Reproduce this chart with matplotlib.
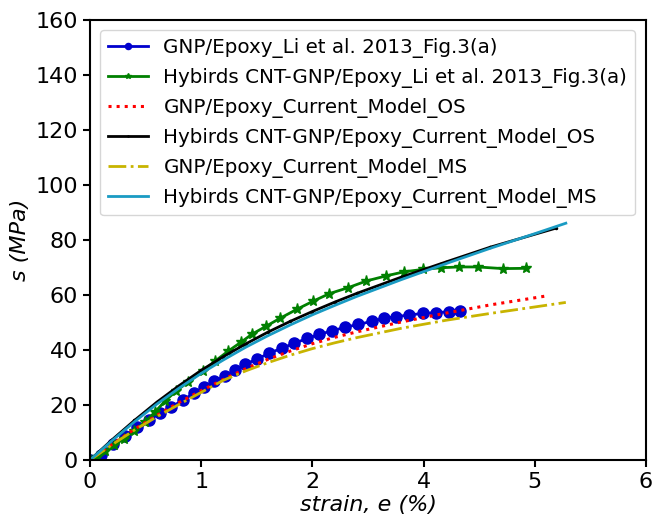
import matplotlib
matplotlib.use("Agg")
import matplotlib.pyplot as plt
import numpy as np

# GNP/Epoxy experimental (Li et al. 2013)
gnp_exp_x = [0.0, 0.099, 0.207, 0.315, 0.423, 0.532, 0.631, 0.730, 0.838, 0.937, 1.027,
             1.117, 1.216, 1.306, 1.396, 1.505, 1.613, 1.730, 1.838, 1.955, 2.063, 2.180,
             2.297, 2.414, 2.532, 2.640, 2.748, 2.865, 2.991, 3.108, 3.225, 3.324]
gnp_exp_y = [0.0, 1.8, 5.8, 8.7, 12.0, 14.5, 17.1, 19.3, 21.8, 24.4, 26.5,
             28.7, 30.5, 32.7, 34.9, 36.7, 38.9, 40.7, 42.5, 44.2, 45.7, 47.0,
             48.3, 49.3, 50.4, 51.5, 52.1, 52.7, 53.3, 53.6, 53.9, 54.3]

# Hybrid CNT-GNP/Epoxy experimental
hyb_exp_x = [0.0, 0.063, 0.135, 0.216, 0.306, 0.396, 0.495, 0.586, 0.676, 0.775, 0.883,
             1.018, 1.126, 1.243, 1.360, 1.459, 1.586, 1.712, 1.865, 2.009, 2.153,
             2.324, 2.486, 2.658, 2.820, 2.991, 3.153, 3.315, 3.486, 3.712, 3.919]
hyb_exp_y = [0.0, 1.1, 3.1, 5.3, 7.8, 10.5, 13.8, 17.5, 21.5, 25.1, 28.4,
             32.4, 36.0, 39.6, 42.9, 45.8, 48.7, 51.6, 54.9, 57.8, 60.5,
             62.7, 65.1, 66.9, 68.4, 69.3, 69.9, 70.2, 70.2, 69.6, 69.7]

# GNP/Epoxy model OS
gnp_os_x = [0.0, 0.2, 0.4, 0.6, 0.8, 1.0, 1.2, 1.4, 1.6, 1.8, 2.0, 2.2, 2.4, 2.8, 3.2, 3.6, 4.126]
gnp_os_y = [0.0, 5.8, 11.2, 16.2, 20.9, 25.2, 29.3, 33.2, 36.6, 39.6, 42.3, 44.6, 46.6,
            50.2, 53.4, 56.4, 59.8]

# Hybrid model OS
hyb_os_x = [0.0, 0.2, 0.4, 0.6, 0.8, 1.0, 1.2, 1.4, 1.6, 1.8, 2.0, 2.2, 2.4, 2.8, 3.2, 3.6, 4.189]
hyb_os_y = [0.0, 7.4, 14.4, 21.0, 27.0, 32.6, 37.6, 42.2, 46.5, 50.4, 54.0, 57.4, 60.6,
            66.5, 72.0, 77.4, 84.3]

# GNP/Epoxy model MS
gnp_ms_x = [0.0, 0.2, 0.4, 0.6, 0.8, 1.0, 1.2, 1.4, 1.6, 1.8, 2.0, 2.2, 2.4, 2.8, 3.2, 3.6, 4.279]
gnp_ms_y = [0.0, 5.6, 10.9, 15.7, 20.2, 24.6, 29.0, 32.4, 35.4, 38.1, 40.5, 42.6, 44.5,
            47.9, 50.8, 53.3, 57.3]

# Hybrid model MS
hyb_ms_x = [0.0, 0.2, 0.4, 0.6, 0.8, 1.0, 1.2, 1.4, 1.6, 1.8, 2.0, 2.2, 2.4, 2.8, 3.2, 3.6, 4.0, 4.279]
hyb_ms_y = [0.0, 7.1, 13.9, 20.3, 26.1, 31.5, 36.4, 41.0, 45.2, 49.1, 52.8, 56.2, 59.5,
            65.6, 71.4, 77.0, 82.3, 86.1]

xtick_pos = [0, 1, 2, 3, 4, 5]
xtick_labels = ['0', '1', '2', '4', '5', '6']
ytick_pos = [0, 20, 40, 60, 80, 100, 120, 140, 160]

fig = plt.figure(figsize=(6.54, 5.2), dpi=100)
ax = fig.add_axes([90/654, 60/520, 556/654, 440/520])

ax.plot(gnp_exp_x, gnp_exp_y, color='mediumblue', marker='o', markersize=8, lw=2,
        label='GNP/Epoxy_Li et al. 2013_Fig.3(a)')
ax.plot(hyb_exp_x, hyb_exp_y, color='green', marker='*', markersize=8, lw=2,
        label='Hybirds CNT-GNP/Epoxy_Li et al. 2013_Fig.3(a)')
ax.plot(gnp_os_x, gnp_os_y, color='red', ls=':', lw=2.2,
        label='GNP/Epoxy_Current_Model_OS')
ax.plot(hyb_os_x, hyb_os_y, color='black', marker='.', markersize=3, lw=2,
        label='Hybirds CNT-GNP/Epoxy_Current_Model_OS')
ax.plot(gnp_ms_x, gnp_ms_y, color='#c8b400', ls='-.', lw=2,
        label='GNP/Epoxy_Current_Model_MS')
ax.plot(hyb_ms_x, hyb_ms_y, color='#1a9bc3', lw=2,
        label='Hybirds CNT-GNP/Epoxy_Current_Model_MS')

ax.set_xlim(0, 5)
ax.set_ylim(0, 160)
ax.set_xticks(xtick_pos)
ax.set_xticklabels(xtick_labels)
ax.set_yticks(ytick_pos)
ax.tick_params(labelsize=16, width=1.5, length=5)
for s in ax.spines.values():
    s.set_linewidth(1.5)

ax.set_xlabel('strain, e (%)', fontsize=16, style='italic', labelpad=2)
ax.set_ylabel('s (MPa)', fontsize=16, style='italic')

ax.legend(loc='upper left', fontsize=14.3, markerscale=0.55, handlelength=2.0,
          labelspacing=0.5, borderaxespad=0.5)

fig.savefig('out.png', dpi=100)
